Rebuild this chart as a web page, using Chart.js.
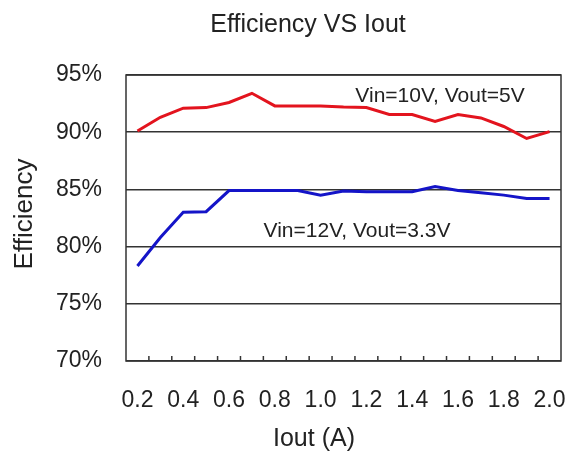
<!DOCTYPE html>
<html lang="en">
<head>
    <meta charset="UTF-8">
    <title>Efficiency VS Iout</title>
    <style>
        html, body { margin: 0; padding: 0; background: #fff; }
        #wrap { width: 573px; height: 453px; }
    </style>
</head>
<body>
    <div id="wrap"><canvas id="effChart" width="573" height="453"></canvas></div>

    <script src="https://cdn.jsdelivr.net/npm/chart.js"></script>
    <script>
        // Output current (A)
        const currents = ['0.2', '0.3', '0.4', '0.5', '0.6', '0.7', '0.8', '0.9', '1.0', '1.1',
                          '1.2', '1.3', '1.4', '1.5', '1.6', '1.7', '1.8', '1.9', '2.0'];
        // Efficiency (%)
        const eff10V = [90.1, 91.3, 92.1, 92.15, 92.6, 93.4, 92.3, 92.3, 92.3, 92.2,
                        92.15, 91.55, 91.55, 90.95, 91.55, 91.25, 90.5, 89.45, 90.05];
        const eff12V = [78.3, 80.8, 83.0, 83.05, 84.9, 84.9, 84.9, 84.9, 84.5, 84.85,
                        84.8, 84.8, 84.8, 85.25, 84.9, 84.7, 84.5, 84.2, 84.2];
        const seriesNames = ['Vin=10V, Vout=5V', 'Vin=12V, Vout=3.3V'];
        const chartTitle = 'Efficiency VS Iout';
        const xTitle = 'Iout (A)';
        const yTitle = 'Efficiency';

        const FONT = '"Liberation Sans", Arial, sans-serif';
        const INK = '#222';

        // cadre + petits traits vers l'intérieur sur l'axe x
        const frame = {
            id: 'frame',
            beforeDatasetsDraw(chart) {
                const { ctx, chartArea: a } = chart;
                const xs = chart.scales.x;
                ctx.save();
                ctx.strokeStyle = '#333';
                ctx.lineWidth = 1.5;
                ctx.strokeRect(a.left, a.top, a.right - a.left, a.bottom - a.top);
                ctx.beginPath();
                for (let i = 1; i < currents.length; i++) {
                    const px = (xs.getPixelForValue(i - 1) + xs.getPixelForValue(i)) / 2;
                    ctx.moveTo(px, a.bottom);
                    ctx.lineTo(px, a.bottom - 5);
                }
                ctx.stroke();
                ctx.restore();
            }
        };

        // titres et étiquettes des courbes
        const texts = {
            id: 'texts',
            afterDraw(chart) {
                const { ctx } = chart;
                ctx.save();
                ctx.fillStyle = INK;
                ctx.textAlign = 'center';
                ctx.textBaseline = 'middle';

                ctx.font = '25px ' + FONT;
                ctx.fillText(chartTitle, 308, 25);
                ctx.fillText(xTitle, 314, 439);

                ctx.save();
                ctx.translate(25, 214);
                ctx.rotate(-Math.PI / 2);
                ctx.font = '26px ' + FONT;
                ctx.fillText(yTitle, 0, 0);
                ctx.restore();

                ctx.font = '21px ' + FONT;
                ctx.fillText(seriesNames[0], 440, 96);
                ctx.fillText(seriesNames[1], 357, 231);
                ctx.restore();
            }
        };

        new Chart(document.getElementById('effChart'), {
            type: 'line',
            data: {
                labels: currents,
                datasets: [{
                    label: seriesNames[0],
                    data: eff10V,
                    borderColor: '#e3141e',
                    borderWidth: 3,
                    pointRadius: 0,
                    tension: 0
                }, {
                    label: seriesNames[1],
                    data: eff12V,
                    borderColor: '#1414c8',
                    borderWidth: 3,
                    pointRadius: 0,
                    tension: 0
                }]
            },
            options: {
                responsive: false,
                animation: false,
                layout: { padding: { top: 75, right: 12, left: 0, bottom: 0 } },
                plugins: {
                    legend: { display: false },
                    tooltip: { enabled: false }
                },
                scales: {
                    x: {
                        offset: true,
                        grid: { display: false, offset: true },
                        border: { display: false },
                        ticks: {
                            autoSkip: false,
                            maxRotation: 0,
                            padding: 18,
                            color: INK,
                            font: { family: FONT, size: 23 },
                            callback: function (v, i) { return i % 2 === 0 ? currents[i] : ''; }
                        },
                        afterFit(scale) {
                            scale.height = 92;
                            scale.paddingLeft = 0;
                            scale.paddingRight = 0;
                        }
                    },
                    y: {
                        min: 70,
                        max: 95,
                        grid: { color: '#333', lineWidth: 1.5, drawTicks: false },
                        border: { display: false },
                        ticks: {
                            stepSize: 5,
                            padding: 24,
                            color: INK,
                            font: { family: FONT, size: 23 },
                            callback: v => v + '%'
                        },
                        afterFit(scale) { scale.width = 126; }
                    }
                }
            },
            plugins: [frame, texts]
        });
    </script>
</body>
</html>
